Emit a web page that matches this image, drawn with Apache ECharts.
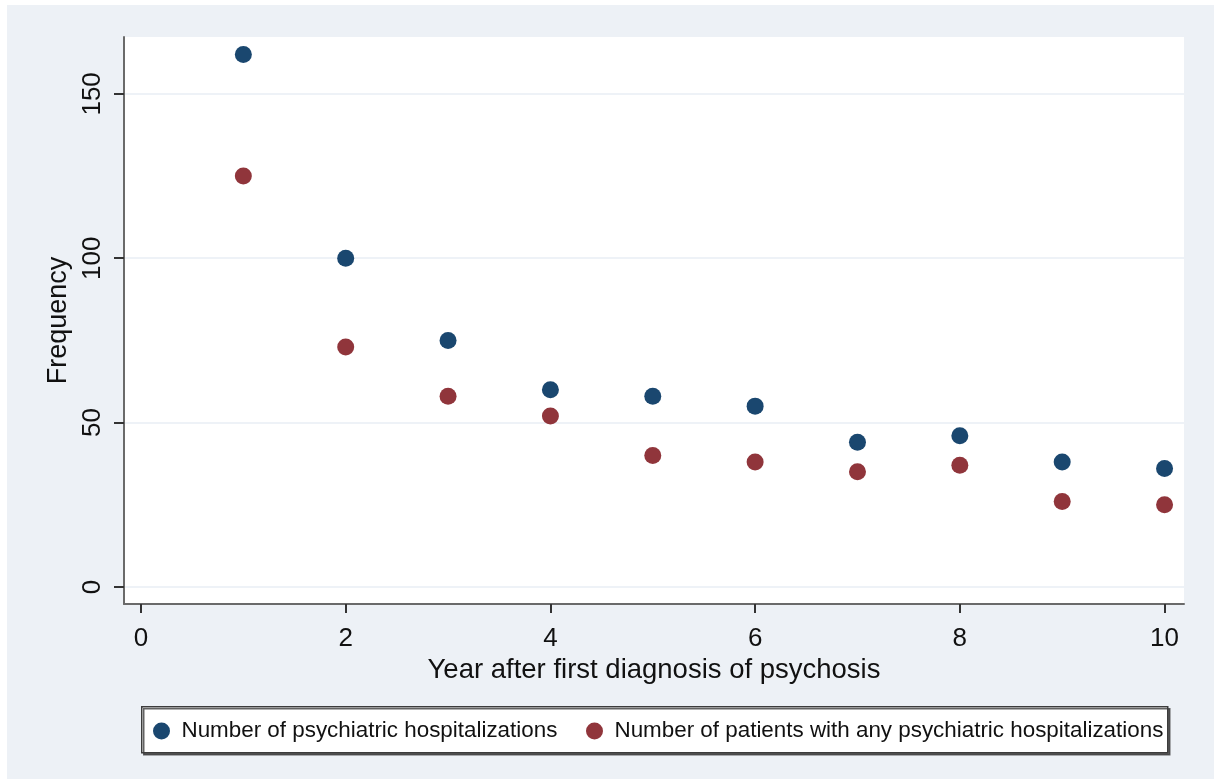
<!DOCTYPE html>
<html>
<head>
<meta charset="utf-8">
<script src="https://cdn.jsdelivr.net/npm/echarts@6/dist/echarts.min.js"></script>
<style>
  html, body { margin: 0; padding: 0; background: #ffffff; width: 1214px; height: 779px; overflow: hidden; }
  #chart { position: absolute; left: 7px; top: 5px; width: 1207px; height: 774px; background: #edf1f6; }
</style>
</head>
<body>
<div id="chart"></div>
<script>
// Years after first diagnosis
const years = [1, 2, 3, 4, 5, 6, 7, 8, 9, 10];
// Number of psychiatric hospitalizations per year
const hospitalizations = [162, 100, 75, 60, 58, 55, 44, 46, 38, 36];
// Number of patients with any psychiatric hospitalization per year
const patients = [125, 73, 58, 52, 40, 38, 35, 37, 26, 25];
// Tick labels
const xTicks = [0, 2, 4, 6, 8, 10];
const yTicks = [0, 50, 100, 150];

const seriesNames = [
  'Number of psychiatric hospitalizations',
  'Number of patients with any psychiatric hospitalizations'
];

const FONT = "'Liberation Sans', Arial, sans-serif";
const AXIS_COLOR = '#6a6a6a';

const chart = echarts.init(document.getElementById('chart'), null, { renderer: 'canvas' });

const option = {
  animation: false,
  textStyle: { fontFamily: FONT, color: '#111' },
  grid: {
    left: 117, top: 32, right: 30, bottom: 175,
    show: true, backgroundColor: '#ffffff', borderWidth: 0,
    containLabel: false
  },
  xAxis: {
    type: 'value',
    min: -0.166, max: 10.19,
    name: 'Year after first diagnosis of psychosis',
    nameLocation: 'middle',
    nameGap: 50,
    nameTextStyle: { fontFamily: FONT, fontSize: 27.5, color: '#111' },
    axisLine: { onZero: false, lineStyle: { color: AXIS_COLOR, width: 2 } },
    axisTick: { show: true, inside: false, length: 9, customValues: xTicks, lineStyle: { color: '#333', width: 2 } },
    axisLabel: { customValues: xTicks, fontSize: 26, color: '#111', margin: 22, fontFamily: FONT },
    splitLine: { show: false }
  },
  yAxis: {
    type: 'value',
    min: -5.2, max: 167.3,
    name: 'Frequency',
    nameLocation: 'middle',
    nameGap: 45,
    nameRotate: 90,
    nameTextStyle: { fontFamily: FONT, fontSize: 27, color: '#111' },
    axisLine: { onZero: false, lineStyle: { color: AXIS_COLOR, width: 2 } },
    axisTick: { show: true, inside: false, length: 10, customValues: yTicks, lineStyle: { color: '#333', width: 2 } },
    axisLabel: { customValues: yTicks, fontSize: 26, color: '#111', margin: 18, rotate: 90, fontFamily: FONT },
    splitLine: { show: true, lineStyle: { color: '#e8eef4', width: 1.5 } }
  },
  graphic: [
    {
      type: 'rect',
      left: 134, top: 701,
      shape: { width: 1026, height: 46 },
      style: {
        fill: '#ffffff', stroke: '#3c3c3c', lineWidth: 1.5,
        shadowColor: 'rgba(60,60,60,0.8)', shadowOffsetX: 2, shadowOffsetY: 2, shadowBlur: 0
      },
      z: 0
    }
  ],
  legend: [
    {
      data: [seriesNames[0]],
      left: 146, top: 715,
      padding: 0,
      itemWidth: 30, itemHeight: 17,
      icon: 'circle',
      textStyle: { fontFamily: FONT, fontSize: 22.4, color: '#111' },
      z: 10
    },
    {
      data: [seriesNames[1]],
      left: 579, top: 715,
      padding: 0,
      itemWidth: 30, itemHeight: 17,
      icon: 'circle',
      textStyle: { fontFamily: FONT, fontSize: 22.4, color: '#111' },
      z: 10
    }
  ],
  series: [
    {
      name: seriesNames[0],
      type: 'scatter',
      symbol: 'circle',
      symbolSize: 17,
      itemStyle: { color: '#1a476f', opacity: 1 },
      data: years.map((y, i) => [y, hospitalizations[i]]),
      z: 3
    },
    {
      name: seriesNames[1],
      type: 'scatter',
      symbol: 'circle',
      symbolSize: 17,
      itemStyle: { color: '#90353b', opacity: 1 },
      data: years.map((y, i) => [y, patients[i]]),
      z: 3
    }
  ]
};

chart.setOption(option);
</script>
</body>
</html>
